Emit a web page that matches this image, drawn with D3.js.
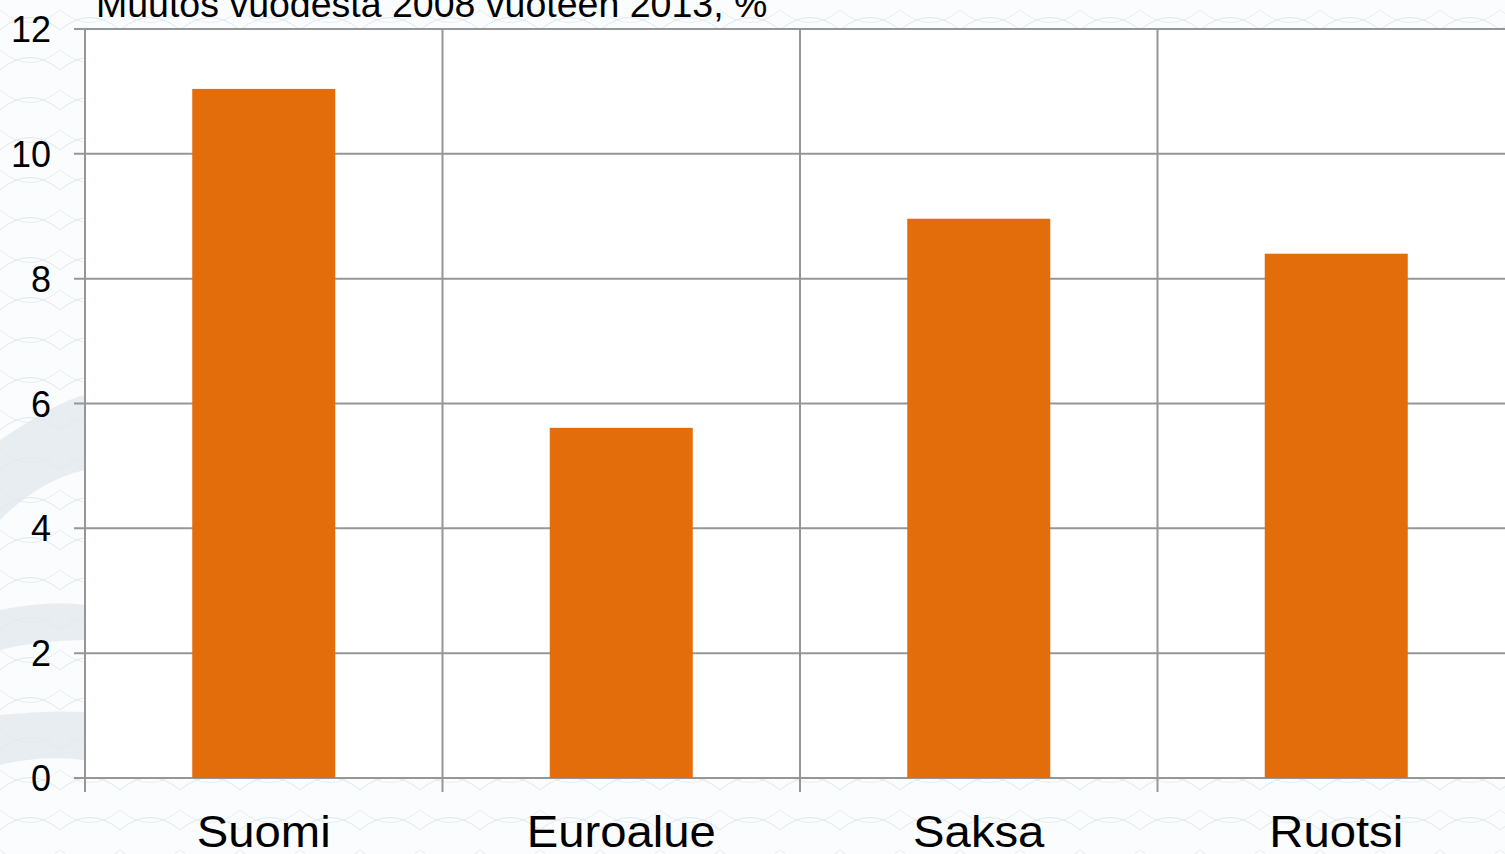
<!DOCTYPE html>
<html><head><meta charset="utf-8">
<script src="https://cdn.jsdelivr.net/npm/d3@7"></script>
<style>html,body{margin:0;padding:0;overflow:hidden;background:#fff}</style>
</head><body>
<svg id="c" width="1505" height="854"></svg>
<script>
const categories = ["Suomi", "Euroalue", "Saksa", "Ruotsi"];
const values = [11.04, 5.61, 8.96, 8.40];
const yTicks = [0, 2, 4, 6, 8, 10, 12];
const title = "Muutos vuodesta 2008 vuoteen 2013, %";

const W = 1505, H = 854;
const m = {left: 85, top: 29, bottom: 778, right: 1515};
const svg = d3.select("#c");
const font = "Liberation Sans, Arial, sans-serif";

// background with faint mesh pattern
const defs = svg.append("defs");
const pat = defs.append("pattern").attr("id","mesh").attr("width",60).attr("height",40)
  .attr("patternUnits","userSpaceOnUse");
pat.append("rect").attr("width",60).attr("height",40).attr("fill","#fbfcfd");
pat.append("path").attr("d","M0,30 Q30,5 60,30").attr("fill","none").attr("stroke","#dde8ee").attr("stroke-width",1);
pat.append("path").attr("d","M0,10 Q30,35 60,10").attr("fill","none").attr("stroke","#e6eef2").attr("stroke-width",1);
svg.append("rect").attr("width",W).attr("height",H).attr("fill","url(#mesh)");
// swooshes on left
svg.append("path").attr("d","M0,440 Q60,400 85,395 L85,470 Q40,480 0,520 Z").attr("fill","#e3e8ef").attr("opacity",0.8);
svg.append("path").attr("d","M0,610 Q50,600 85,605 L85,640 Q40,640 0,650 Z").attr("fill","#e3e8ef").attr("opacity",0.8);
svg.append("path").attr("d","M0,715 Q50,710 85,712 L85,760 Q40,755 0,765 Z").attr("fill","#e3e8ef").attr("opacity",0.8);

const x = d3.scaleBand().domain(categories).range([m.left, m.right]).paddingInner(0.6).paddingOuter(0.3);
const xb = d3.scaleBand().domain(categories).range([m.left, m.right]);
const y = d3.scaleLinear().domain([0, 12]).range([m.bottom, m.top]);

// plot area
svg.append("rect").attr("x", m.left).attr("y", m.top).attr("width", m.right - m.left).attr("height", m.bottom - m.top).attr("fill", "#fff");

const grid = "#969696";
svg.append("g").selectAll("line").data(yTicks).join("line")
  .attr("x1", m.left - 11).attr("x2", m.right)
  .attr("y1", d => y(d)).attr("y2", d => y(d))
  .attr("stroke", grid).attr("stroke-width", 2);
const bounds = categories.map(c => xb(c));
svg.append("g").selectAll("line").data(bounds).join("line")
  .attr("x1", d => d).attr("x2", d => d)
  .attr("y1", m.top).attr("y2", m.bottom + 14)
  .attr("stroke", grid).attr("stroke-width", 2);

// bars
svg.append("g").selectAll("rect").data(values).join("rect")
  .attr("x", (d, i) => x(categories[i]))
  .attr("width", x.bandwidth())
  .attr("y", d => y(d))
  .attr("height", d => y(0) - y(d))
  .attr("fill", "#e36c0b");

// y labels
svg.append("g").selectAll("text").data(yTicks).join("text")
  .attr("x", 51).attr("y", d => y(d) + 13)
  .attr("text-anchor", "end")
  .attr("font-family", font)
  .attr("font-size", 36).attr("fill", "#000")
  .text(d => d);

// x labels
svg.append("g").selectAll("text").data(categories).join("text")
  .attr("transform", d => `translate(${xb(d) + xb.bandwidth() / 2},847) scale(1.05,1)`)
  .attr("text-anchor", "middle")
  .attr("font-family", font)
  .attr("font-size", 45).attr("fill", "#000")
  .text(d => d);

// title
svg.append("text").attr("x", 96).attr("y", 17)
  .attr("font-family", font)
  .attr("font-size", 37.5).attr("fill", "#000")
  .text(title);
</script>
</body></html>
